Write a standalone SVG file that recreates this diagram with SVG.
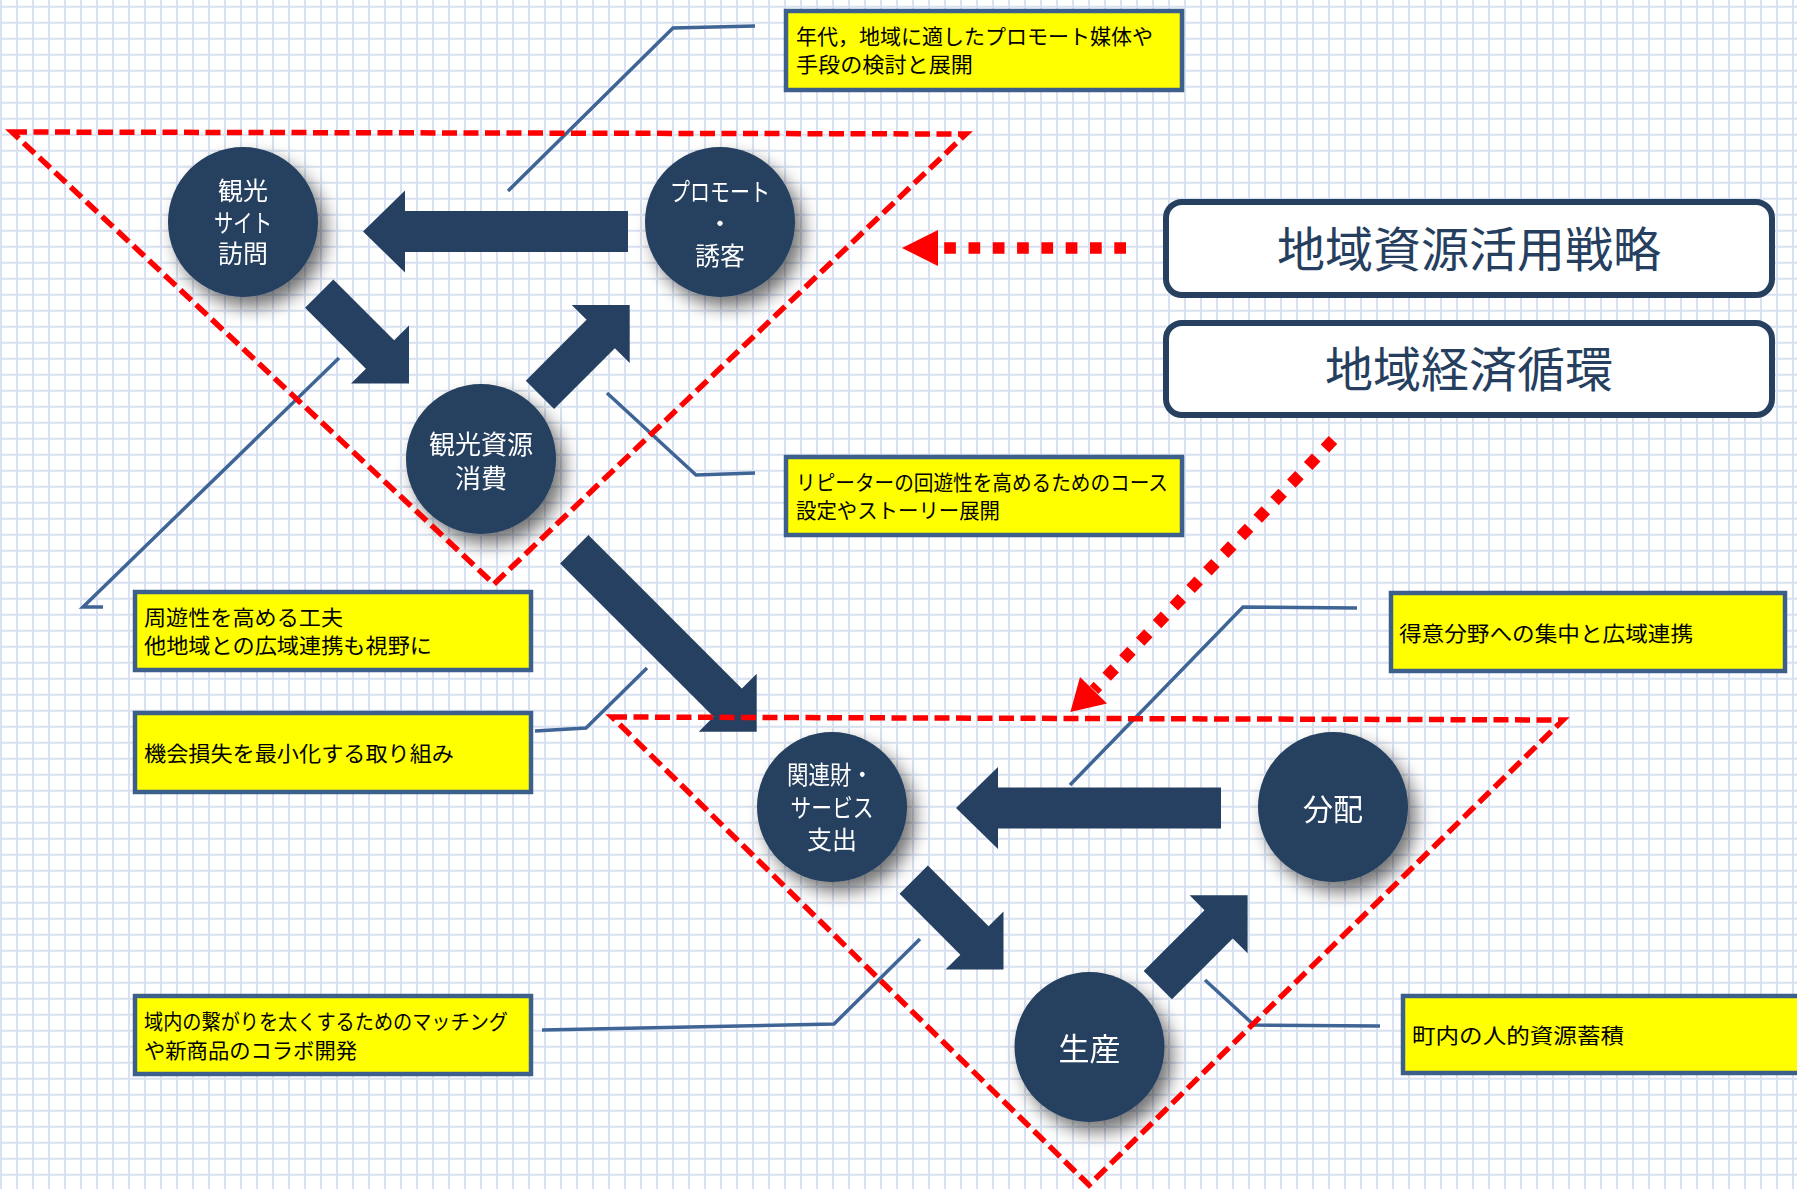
<svg xmlns="http://www.w3.org/2000/svg" width="1797" height="1189" viewBox="0 0 1797 1189">
  <style>
    .node { fill: #253f60; }
    .ntext { fill: #ffffff; font-family: 'Noto Sans CJK JP', 'Noto Sans', sans-serif; text-anchor: middle; }
    .note rect { fill: #ffff00; stroke: #3d5f8c; stroke-width: 4.5; }
    .note text { fill: #000000; font-family: 'Noto Sans CJK JP', 'Noto Sans', sans-serif; font-size: 21px; }
    .title rect { fill: #ffffff; stroke: #27405f; stroke-width: 6; }
    .title text { fill: #263f5f; font-family: 'Noto Sans CJK JP', 'Noto Sans', sans-serif; font-size: 48px; text-anchor: middle; }
    .callout { fill: none; stroke: #3f6596; stroke-width: 3.5; stroke-linejoin: miter; }
    .flow { fill: #264061; }
    .zone { fill: none; stroke: #ff0000; stroke-width: 5.5; stroke-dasharray: 15 6.5; stroke-linejoin: miter; }
    .dots { fill: none; stroke: #ff0000; stroke-width: 11.7; stroke-dasharray: 11.7 12.6; }
  </style>
  <defs>
    <pattern id="grid" width="16" height="16" patternUnits="userSpaceOnUse">
      <rect width="16" height="16" fill="#ffffff"/>
      <path d="M1,0V16M0,6.7H16" stroke="#d8e1ef" stroke-width="2" fill="none"/>
    </pattern>
    <filter id="shadow" x="-40%" y="-40%" width="190%" height="190%">
      <feGaussianBlur in="SourceAlpha" stdDeviation="9"/>
      <feOffset dx="8" dy="10" result="off"/>
      <feComponentTransfer><feFuncA type="linear" slope="0.55"/></feComponentTransfer>
      <feMerge><feMergeNode/><feMergeNode in="SourceGraphic"/></feMerge>
    </filter>
    <!-- block arrows pointing right, tip at origin -->
    <path id="arrowShort" d="M0,0 L-41,-41 L-41,-20 L-127,-20 L-127,20 L-41,20 L-41,41 Z"/>
    <path id="arrowLong" d="M0,0 L-42,-41 L-42,-20.5 L-265,-20.5 L-265,20.5 L-42,20.5 L-42,41 Z"/>
    <path id="arrowDiag" d="M0,0 L-41,-41 L-41,-20 L-258,-20 L-258,20 L-41,20 L-41,41 Z"/>
  </defs>

  <rect width="1797" height="1189" fill="url(#grid)"/>

  <!-- callout leader lines -->
  <g id="callouts">
    <polyline class="callout" points="508,191 673,28 755,26"/>
    <polyline class="callout" points="339,358 83,607 103,607"/>
    <polyline class="callout" points="607,393 696,475 755,473"/>
    <polyline class="callout" points="647,668 586,728 535,731"/>
    <polyline class="callout" points="920,939 834,1024 542,1030"/>
    <polyline class="callout" points="1070,785 1243,607 1357,608"/>
    <polyline class="callout" points="1205,980 1254,1025 1380,1026"/>
  </g>

  <!-- flow arrows between nodes -->
  <g id="connectors">
    <use href="#arrowLong" class="flow" transform="translate(363,231.5) rotate(180)"/>
    <use href="#arrowShort" class="flow" transform="translate(409,383.5) rotate(45)"/>
    <use href="#arrowShort" class="flow" transform="translate(629.7,305) rotate(-45)"/>
    <use href="#arrowDiag" class="flow" transform="translate(756.7,731.7) rotate(45)"/>
    <use href="#arrowLong" class="flow" transform="translate(956,808) rotate(180)"/>
    <use href="#arrowShort" class="flow" transform="translate(1003.5,969.5) rotate(45)"/>
    <use href="#arrowShort" class="flow" transform="translate(1247.6,895.3) rotate(-45)"/>
  </g>

  <!-- cycle nodes -->
  <g id="node-sightseeing" filter="url(#shadow)">
    <circle class="node" cx="243" cy="222" r="75"/>
    <text class="ntext" font-size="25"><tspan x="243" y="200">観光</tspan><tspan x="243" y="231.5" textLength="58" lengthAdjust="spacingAndGlyphs">サイト</tspan><tspan x="243" y="263">訪問</tspan></text>
  </g>
  <g id="node-promote" filter="url(#shadow)">
    <circle class="node" cx="720" cy="222" r="75"/>
    <text class="ntext" font-size="25"><tspan x="720" y="201" textLength="100" lengthAdjust="spacingAndGlyphs">プロモート</tspan><tspan x="720" y="233">・</tspan><tspan x="720" y="265">誘客</tspan></text>
  </g>
  <g id="node-consume" filter="url(#shadow)">
    <circle class="node" cx="481" cy="459" r="75"/>
    <text class="ntext" font-size="26"><tspan x="481" y="454">観光資源</tspan><tspan x="481" y="488">消費</tspan></text>
  </g>
  <g id="node-spending" filter="url(#shadow)">
    <circle class="node" cx="832" cy="807" r="75"/>
    <text class="ntext" font-size="25"><tspan x="830" y="784" textLength="86" lengthAdjust="spacingAndGlyphs">関連財・</tspan><tspan x="832" y="816.5" textLength="83" lengthAdjust="spacingAndGlyphs">サービス</tspan><tspan x="832" y="849">支出</tspan></text>
  </g>
  <g id="node-distribution" filter="url(#shadow)">
    <circle class="node" cx="1333" cy="807" r="75"/>
    <text class="ntext" font-size="30" x="1333" y="820">分配</text>
  </g>
  <g id="node-production" filter="url(#shadow)">
    <circle class="node" cx="1089.5" cy="1047" r="75"/>
    <text class="ntext" font-size="31" x="1089.5" y="1060">生産</text>
  </g>

  <!-- strategy titles -->
  <g id="title-strategy" class="title">
    <rect x="1166" y="202" width="606" height="93" rx="16"/>
    <text x="1469" y="267">地域資源活用戦略</text>
  </g>
  <g id="title-economy" class="title">
    <rect x="1166" y="323" width="606" height="92" rx="16"/>
    <text x="1469" y="387">地域経済循環</text>
  </g>

  <!-- notes -->
  <g id="note-media" class="note">
    <rect x="786" y="11" width="396" height="79"/>
    <text><tspan x="796" y="44" textLength="357" lengthAdjust="spacingAndGlyphs">年代，地域に適したプロモート媒体や</tspan><tspan x="796" y="72" textLength="177" lengthAdjust="spacingAndGlyphs">手段の検討と展開</tspan></text>
  </g>
  <g id="note-repeater" class="note">
    <rect x="786" y="457" width="396" height="78"/>
    <text><tspan x="796" y="490" textLength="372" lengthAdjust="spacingAndGlyphs">リピーターの回遊性を高めるためのコース</tspan><tspan x="796" y="518" textLength="204" lengthAdjust="spacingAndGlyphs">設定やストーリー展開</tspan></text>
  </g>
  <g id="note-excursion" class="note">
    <rect x="135" y="592" width="396" height="78"/>
    <text><tspan x="144" y="625" textLength="199" lengthAdjust="spacingAndGlyphs">周遊性を高める工夫</tspan><tspan x="144" y="653" textLength="288" lengthAdjust="spacingAndGlyphs">他地域との広域連携も視野に</tspan></text>
  </g>
  <g id="note-loss" class="note">
    <rect x="135" y="713" width="396" height="79"/>
    <text x="144" y="760.5" textLength="310" lengthAdjust="spacingAndGlyphs">機会損失を最小化する取り組み</text>
  </g>
  <g id="note-matching" class="note">
    <rect x="135" y="996" width="396" height="78"/>
    <text><tspan x="144" y="1029" textLength="364" lengthAdjust="spacingAndGlyphs">域内の繋がりを太くするためのマッチング</tspan><tspan x="144" y="1058" textLength="213" lengthAdjust="spacingAndGlyphs">や新商品のコラボ開発</tspan></text>
  </g>
  <g id="note-focus" class="note">
    <rect x="1391" y="593" width="394" height="78"/>
    <text x="1399" y="640.5" textLength="294" lengthAdjust="spacingAndGlyphs">得意分野への集中と広域連携</text>
  </g>
  <g id="note-talent" class="note">
    <rect x="1403" y="996" width="400" height="77"/>
    <text x="1412" y="1042.5" textLength="212" lengthAdjust="spacingAndGlyphs">町内の人的資源蓄積</text>
  </g>

  <!-- dashed zones -->
  <g id="zones">
    <polygon class="zone" points="12,132 966,134 494,584"/>
    <polygon class="zone" points="612,717 1563,720 1089,1185"/>
  </g>

  <!-- dotted influence arrows -->
  <g id="influence">
    <line class="dots" x1="1126" y1="248" x2="944" y2="248"/>
    <polygon fill="#ff0000" points="902,248 938,230 938,266"/>
    <line class="dots" x1="1333" y1="440" x2="1094" y2="690"/>
    <polygon fill="#ff0000" points="1070.4,712 1080,677 1107,703.5"/>
  </g>
</svg>
